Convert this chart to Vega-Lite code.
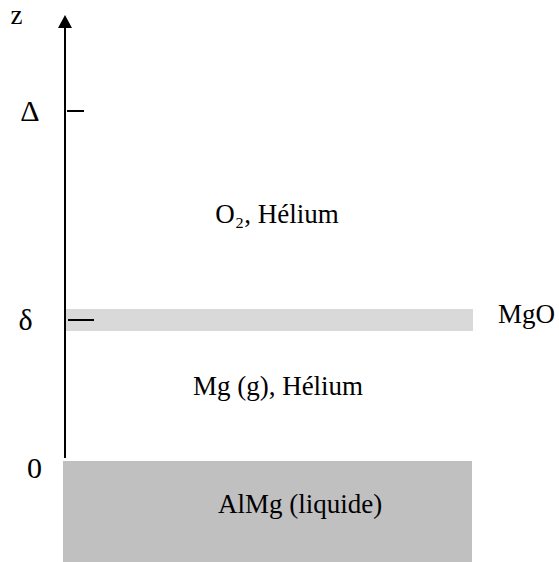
{
  "$schema": "https://vega.github.io/schema/vega-lite/v6.json",
  "width": 559,
  "height": 562,
  "autosize": {"type": "fit", "contains": "padding"},
  "padding": 0,
  "background": "white",
  "config": {"view": {"stroke": null}},
  "datasets": {
    "regions": [
      {"name": "AlMg", "x0": 63, "x1": 472, "z0": -101, "z1": 0, "fill": "liquid"},
      {"name": "MgO", "x0": 66, "x1": 473, "z0": 130, "z1": 152, "fill": "oxide"}
    ],
    "axisline": [{"x": 65, "z0": 3, "z1": 436}],
    "arrow": [{"x": 65, "z": 439.5}],
    "ticks": [
      {"name": "Delta", "x0": 67, "x1": 84, "z": 350},
      {"name": "delta", "x0": 68, "x1": 94, "z": 141}
    ],
    "axislabels": [
      {"label": "Δ", "x": 30, "z": 340},
      {"label": "δ", "x": 25.5, "z": 131},
      {"label": "0", "x": 34.5, "z": -17}
    ],
    "labels": [
      {"label": "z", "x": 16.5, "z": 437},
      {"label": "MgO", "x": 526.5, "z": 138},
      {"label": "O₂, Hélium", "x": 277, "z": 238},
      {"label": "Mg (g), Hélium", "x": 278, "z": 66},
      {"label": "AlMg (liquide)", "x": 300, "z": -52}
    ]
  },
  "layer": [
    {
      "data": {"name": "regions"},
      "mark": {"type": "rect"},
      "encoding": {
        "x": {"field": "x0", "type": "quantitative", "scale": {"domain": [0, 559], "nice": false, "zero": false}, "axis": null},
        "x2": {"field": "x1"},
        "y": {"field": "z0", "type": "quantitative", "scale": {"domain": [-101, 461], "nice": false, "zero": false}, "axis": null},
        "y2": {"field": "z1"},
        "color": {"field": "fill", "type": "nominal", "scale": {"domain": ["liquid", "oxide"], "range": ["#c0c0c0", "#d9d9d9"]}, "legend": null}
      }
    },
    {
      "data": {"name": "axisline"},
      "mark": {"type": "rule", "color": "black", "strokeWidth": 2},
      "encoding": {
        "x": {"field": "x", "type": "quantitative"},
        "y": {"field": "z0", "type": "quantitative"},
        "y2": {"field": "z1"}
      }
    },
    {
      "data": {"name": "arrow"},
      "mark": {"type": "point", "shape": "M0,-0.93L1,0.93L-1,0.93Z", "filled": true, "color": "black", "opacity": 1, "size": 196},
      "encoding": {
        "x": {"field": "x", "type": "quantitative"},
        "y": {"field": "z", "type": "quantitative"}
      }
    },
    {
      "data": {"name": "ticks"},
      "mark": {"type": "rule", "color": "black", "strokeWidth": 2},
      "encoding": {
        "x": {"field": "x0", "type": "quantitative"},
        "x2": {"field": "x1"},
        "y": {"field": "z", "type": "quantitative"}
      }
    },
    {
      "data": {"name": "axislabels"},
      "mark": {"type": "text", "font": "Liberation Serif", "fontSize": 30, "align": "center", "baseline": "alphabetic", "color": "black"},
      "encoding": {
        "x": {"field": "x", "type": "quantitative"},
        "y": {"field": "z", "type": "quantitative"},
        "text": {"field": "label", "type": "nominal"}
      }
    },
    {
      "data": {"name": "labels"},
      "mark": {"type": "text", "font": "Liberation Serif", "fontSize": 27, "align": "center", "baseline": "alphabetic", "color": "black"},
      "encoding": {
        "x": {"field": "x", "type": "quantitative"},
        "y": {"field": "z", "type": "quantitative"},
        "text": {"field": "label", "type": "nominal"}
      }
    }
  ]
}
